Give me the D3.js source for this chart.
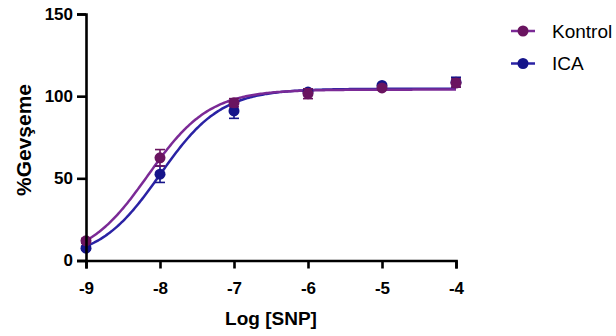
<!DOCTYPE html>
<html>
<head>
<meta charset="utf-8">
<script src="https://cdn.jsdelivr.net/npm/d3@7"></script>
<style>
  html, body { margin: 0; padding: 0; background: #fff; }
  svg { display: block; font-family: "Liberation Sans", Arial, sans-serif; }
</style>
</head>
<body>
<svg id="chart" width="616" height="336"></svg>
<script>
// Log concentrations of SNP (M)
const logDose = [-9, -8, -7, -6, -5, -4];

// Mean relaxation (%) and SEM per group
const kontrolMean = [12, 62.5, 96, 101.5, 105, 108];
const kontrolSem  = [1.5, 5, 2.5, 3, 1, 2.5];
const icaMean     = [7.5, 52.5, 91, 102.5, 106.5, 108.5];
const icaSem      = [1, 5, 4.5, 2, 1, 3];

// Fitted sigmoid (log(agonist) vs. response) parameters: bottom, top, logEC50, Hill slope
const kontrolFit = [0, 104, -8.16, 1.05];
const icaFit     = [0, 104.5, -8.0, 1.05];

const xTicks = [-9, -8, -7, -6, -5, -4];
const yTicks = [0, 50, 100, 150];
const groupNames = ["Kontrol", "ICA"];

const svg = d3.select("#chart");
const x = d3.scaleLinear().domain([-9, -4]).range([86, 456]);
const y = d3.scaleLinear().domain([0, 150]).range([260.5, 14]);

const groups = [
  { name: groupNames[1], mean: icaMean, sem: icaSem, fit: icaFit, line: "#2a22a4", dot: "#15148a" },
  { name: groupNames[0], mean: kontrolMean, sem: kontrolSem, fit: kontrolFit, line: "#7b2a96", dot: "#6a1460" }
];

const sigmoid = (p, lx) => p[0] + (p[1] - p[0]) / (1 + Math.pow(10, (p[2] - lx) * p[3]));

// Curves
const curveX = d3.range(-9, -4 + 1e-9, 0.02);
const lineGen = d3.line().x(d => x(d[0])).y(d => y(d[1]));
groups.forEach(g => {
  svg.append("path")
    .datum(curveX.map(lx => [lx, sigmoid(g.fit, lx)]))
    .attr("d", lineGen)
    .attr("fill", "none")
    .attr("stroke", g.line)
    .attr("stroke-width", 2.5);
});

// Error bars and points
groups.forEach(g => {
  const pts = logDose.map((d, i) => ({ x: d, m: g.mean[i], s: g.sem[i] }));
  const eb = svg.append("g").attr("stroke", g.dot).attr("stroke-width", 1.6);
  eb.selectAll("line.v").data(pts).join("line")
    .attr("x1", d => x(d.x)).attr("x2", d => x(d.x))
    .attr("y1", d => y(d.m - d.s)).attr("y2", d => y(d.m + d.s));
  eb.selectAll("line.t").data(pts).join("line")
    .attr("x1", d => x(d.x) - 5).attr("x2", d => x(d.x) + 5)
    .attr("y1", d => y(d.m + d.s)).attr("y2", d => y(d.m + d.s));
  eb.selectAll("line.b").data(pts).join("line")
    .attr("x1", d => x(d.x) - 5).attr("x2", d => x(d.x) + 5)
    .attr("y1", d => y(d.m - d.s)).attr("y2", d => y(d.m - d.s));
  svg.append("g").selectAll("circle").data(pts).join("circle")
    .attr("cx", d => x(d.x)).attr("cy", d => y(d.m)).attr("r", 5.5)
    .attr("fill", g.dot);
});

// Axes
const xAxis = svg.append("g").attr("transform", "translate(0,260.5)")
  .call(d3.axisBottom(x).tickValues(xTicks).tickSizeOuter(0).tickSize(8).tickPadding(13).tickFormat(d3.format("d")));
const yAxis = svg.append("g").attr("transform", "translate(86,0)")
  .call(d3.axisLeft(y).tickValues(yTicks).tickSizeOuter(0).tickSize(9).tickPadding(4));
[xAxis, yAxis].forEach(a => {
  a.select(".domain").attr("stroke", "#000").attr("stroke-width", 2.6);
  a.selectAll(".tick line").attr("stroke", "#000").attr("stroke-width", 2.6);
  a.selectAll(".tick text").attr("fill", "#000").attr("font-size", 17).attr("font-weight", "bold")
    .attr("font-family", "'Liberation Sans', Arial, sans-serif");
});
xAxis.selectAll(".tick text").text(d => d < 0 ? "-" + Math.abs(d) : d);

// Axis titles
svg.append("text").attr("x", 271).attr("y", 325).attr("text-anchor", "middle")
  .attr("font-size", 19).attr("font-weight", "bold").text("Log [SNP]");
svg.append("text").attr("transform", "translate(31,140) rotate(-90)").attr("text-anchor", "middle")
  .attr("font-size", 21).attr("font-weight", "bold").text("%Gevşeme");

// Legend
const legendRows = [groups[1], groups[0]];
legendRows.forEach((g, i) => {
  const ly = 31 + i * 32.5;
  svg.append("line").attr("x1", 511).attr("x2", 535).attr("y1", ly).attr("y2", ly)
    .attr("stroke", g.line).attr("stroke-width", 2.5);
  svg.append("circle").attr("cx", 523).attr("cy", ly).attr("r", 5.5).attr("fill", g.dot);
  svg.append("text").attr("x", 552).attr("y", ly + 6.5).attr("font-size", 19).attr("fill", "#000").text(g.name);
});
</script>
</body>
</html>
